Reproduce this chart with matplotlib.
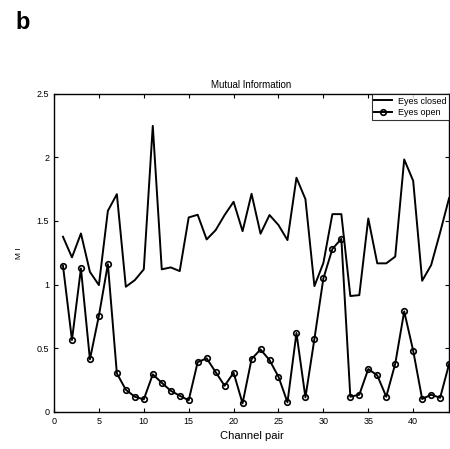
import matplotlib
matplotlib.use("Agg")
import matplotlib.pyplot as plt

plt.rcParams['font.family'] = ['Liberation Sans', 'DejaVu Sans']

channel_pairs = list(range(1, 45))
eyes_closed = [1.376, 1.214, 1.402, 1.10, 0.996, 1.58, 1.711, 0.983, 1.035, 1.12,
               2.248, 1.12, 1.135, 1.106, 1.528, 1.549, 1.355, 1.428, 1.547, 1.651,
               1.42, 1.714, 1.40, 1.547, 1.468, 1.35, 1.84, 1.672, 0.988, 1.17,
               1.554, 1.554, 0.91, 0.917, 1.52, 1.167, 1.167, 1.22, 1.984, 1.816,
               1.03, 1.153, 1.41, 1.68]
eyes_open = [1.148, 0.564, 1.127, 0.412, 0.755, 1.161, 0.302, 0.173, 0.118, 0.097,
             0.294, 0.228, 0.165, 0.126, 0.09, 0.39, 0.42, 0.312, 0.204, 0.307,
             0.066, 0.414, 0.49, 0.406, 0.275, 0.074, 0.619, 0.113, 0.572, 1.049,
             1.28, 1.36, 0.118, 0.134, 0.336, 0.286, 0.118, 0.377, 0.789, 0.48,
             0.10, 0.134, 0.11, 0.375]
x_ticks = [0, 5, 10, 15, 20, 25, 30, 35, 40]
y_ticks = [0, 0.5, 1, 1.5, 2, 2.5]
y_tick_labels = ['0', '0.5', '1', '1.5', '2', '2.5']

fig = plt.figure(figsize=(4.5, 4.49), dpi=100)
ax = fig.add_axes([0.12, 0.083, 0.878, 0.708])

ax.plot(channel_pairs, eyes_closed, color='black', lw=1.4, label='Eyes closed')
ax.plot(channel_pairs, eyes_open, color='black', lw=1.4, marker='o', ms=4,
        mfc='none', mec='black', mew=1.2, label='Eyes open')

ax.set_xlim(0, 44)
ax.set_ylim(0, 2.5)
ax.set_xticks(x_ticks)
ax.set_yticks(y_ticks)
ax.set_yticklabels(y_tick_labels)
ax.tick_params(direction='in', length=3, width=0.8, labelsize=6.5, top=True, right=True)
for s in ax.spines.values():
    s.set_linewidth(1.0)

ax.set_title('Mutual Information', fontsize=7, pad=4)
ax.set_xlabel('Channel pair', fontsize=8, labelpad=4)
ax.set_ylabel('M I', fontsize=6, labelpad=10)

leg = ax.legend(loc='upper right', fontsize=6.5, frameon=True, fancybox=False,
                edgecolor='black', borderpad=0.3, handlelength=2.0,
                handletextpad=0.6, labelspacing=0.3, borderaxespad=0.0)
leg.get_frame().set_linewidth(0.8)

fig.text(0.035, 0.975, 'b', fontsize=17, fontweight='bold', va='top', ha='left')

fig.savefig('out.png', dpi=100)
